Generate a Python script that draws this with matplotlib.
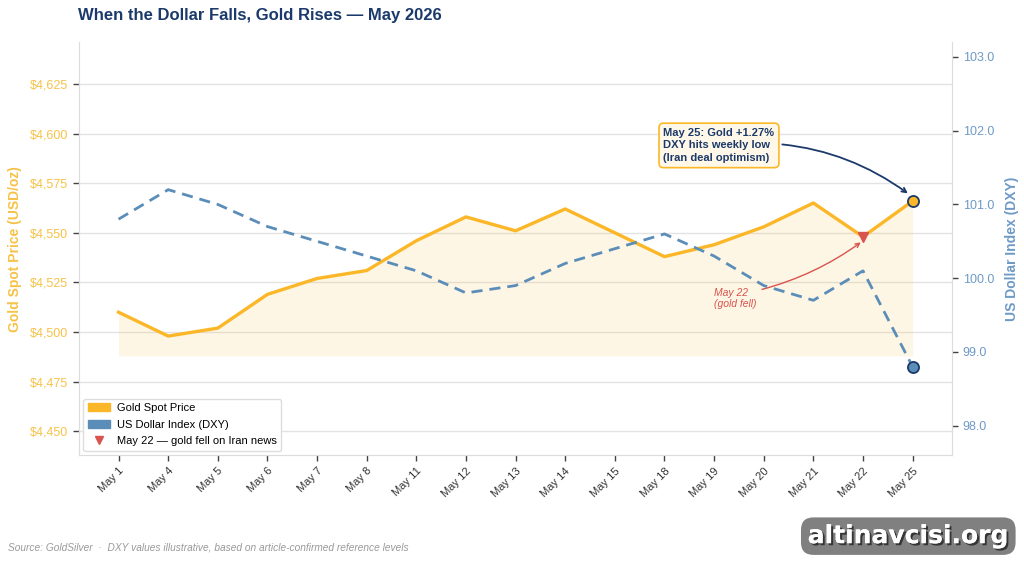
import matplotlib.pyplot as plt
import matplotlib.patheffects as pe
from matplotlib.patches import Patch
from matplotlib.lines import Line2D

days = ["May 1", "May 4", "May 5", "May 6", "May 7", "May 8", "May 11", "May 12",
        "May 13", "May 14", "May 15", "May 18", "May 19", "May 20", "May 21",
        "May 22", "May 25"]
gold = [4510, 4498, 4502, 4519, 4527, 4531, 4546, 4558, 4551, 4562, 4550,
        4538, 4544, 4553, 4565, 4548, 4566]
dxy = [100.8, 101.2, 101.0, 100.7, 100.5, 100.3, 100.1, 99.8, 99.9, 100.2,
       100.4, 100.6, 100.3, 99.9, 99.7, 100.1, 98.8]
gold_ticks = [4450, 4475, 4500, 4525, 4550, 4575, 4600, 4625]
dxy_ticks = [98.0, 99.0, 100.0, 101.0, 102.0, 103.0]

GOLD = "#FBB728"
GOLD_TXT = "#F7C247"
BLUE = "#5B8DB9"
BLUE_TXT = "#6E9AC6"
NAVY = "#1B3A6B"
RED = "#D9534F"

plt.rcParams['font.family'] = ['Liberation Sans', 'DejaVu Sans']

fig = plt.figure(figsize=(10.24, 5.62), dpi=100)
ax = fig.add_axes([0.077, 0.19, 0.853, 0.735])
ax2 = ax.twinx()

x = list(range(len(days)))

# gold
ax.fill_between(x, gold, min(gold) - 10, color=GOLD, alpha=0.12, lw=0, zorder=1)
ax.plot(x, gold, color=GOLD, lw=2.4, zorder=3)
ax.plot(x[-1], gold[-1], 'o', ms=8, mfc=GOLD, mec=NAVY, mew=1.3, zorder=5)
ax.plot(x[15], gold[15], 'v', ms=7, color=RED, zorder=5)

# dxy
ax2.plot(x, dxy, color=BLUE, lw=2, ls=(0, (4, 2.5)), zorder=3)
ax2.plot(x[-1], dxy[-1], 'o', ms=8, mfc=BLUE, mec=NAVY, mew=1.3, zorder=5)

ax.set_xlim(-0.8, 16.8)
ax.set_ylim(4438, 4646)
ax2.set_ylim(97.6, 103.2)

ax.set_xticks(x)
ax.set_xticklabels(days, rotation=45, ha='right', fontsize=8, color='#333333',
                   rotation_mode='anchor')
ax.set_yticks(gold_ticks)
ax.set_yticklabels([f"${v:,}" for v in gold_ticks], fontsize=9, color=GOLD_TXT)
ax2.set_yticks(dxy_ticks)
ax2.set_yticklabels([f"{v:.1f}" for v in dxy_ticks], fontsize=9, color=BLUE_TXT)

ax.grid(axis='y', color='#E3E3E3', lw=1)
ax.set_axisbelow(True)
ax2.grid(False)
for a in (ax, ax2):
    a.tick_params(length=4, width=1, color='#444444')
    a.spines['top'].set_visible(False)
    for s in ('left', 'right', 'bottom'):
        a.spines[s].set_color('#DDDDDD')

ax.set_ylabel("Gold Spot Price (USD/oz)", color=GOLD_TXT, fontsize=10,
              fontweight='bold', labelpad=6)
ax2.set_ylabel("US Dollar Index (DXY)", color=BLUE_TXT, fontsize=10,
               fontweight='bold', labelpad=8)

fig.text(0.076, 0.972, "When the Dollar Falls, Gold Rises \u2014 May 2026",
         fontsize=12, fontweight='bold', color=NAVY, va='center')

# annotations
ax.annotate("May 25: Gold +1.27%\nDXY hits weekly low\n(Iran deal optimism)",
            xy=(x[-1] - 0.05, gold[-1] + 3), xytext=(10.98, 4594),
            fontsize=8, fontweight='bold', color=NAVY, ha='left', va='center',
            linespacing=1.35,
            bbox=dict(boxstyle='round,pad=0.4', fc='#FFF8E8', ec=GOLD, lw=1.2),
            arrowprops=dict(arrowstyle='->', color=NAVY, lw=1.3,
                            connectionstyle='arc3,rad=-0.2'), zorder=6)
ax.annotate("May 22\n(gold fell)", xy=(x[15], gold[15] - 2), xytext=(12.0, 4517),
            fontsize=7.5, style='italic', color=RED, ha='left', va='center',
            arrowprops=dict(arrowstyle='->', color=RED, lw=1,
                            connectionstyle='arc3,rad=0.1', relpos=(1.0, 0.85),
                            shrinkA=2, shrinkB=2), zorder=6)

handles = [Patch(color=GOLD, label="Gold Spot Price"),
           Patch(color=BLUE, label="US Dollar Index (DXY)"),
           Line2D([], [], marker='v', color=RED, ls='none', ms=6,
                  label="May 22 \u2014 gold fell on Iran news")]
ax.legend(handles=handles, loc='lower left', fontsize=8, frameon=True,
          facecolor='white', edgecolor='#DDDDDD', framealpha=1,
          handlelength=2.0, handletextpad=0.6, labelspacing=0.6,
          borderaxespad=0.4)

fig.text(0.008, 0.025, "Source: GoldSilver  \u00b7  DXY values illustrative, based on article-confirmed reference levels",
         fontsize=7.3, style='italic', color='#999999', va='center')

fig.text(0.887, 0.046, "altinavcisi.org", fontsize=18, fontweight='bold',
         family='DejaVu Sans', color='white', ha='center', va='center',
         path_effects=[pe.withSimplePatchShadow(offset=(1.5, -1.5), shadow_rgbFace='#222222', alpha=0.8),
                       pe.Normal()],
         bbox=dict(boxstyle='round,pad=0.27,rounding_size=0.5', fc='#808080', ec='none'))

fig.savefig("out.png", dpi=100, facecolor='white')
